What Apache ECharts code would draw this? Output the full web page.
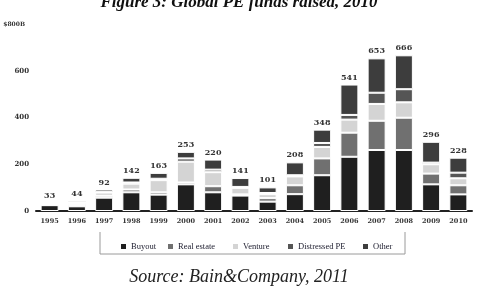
<!DOCTYPE html>
<html>
<head>
<meta charset="utf-8">
<script src="https://cdn.jsdelivr.net/npm/echarts@6/dist/echarts.min.js"></script>
<style>
  html, body { margin: 0; padding: 0; background: #fff; }
  #chart { width: 478px; height: 291px; }
</style>
</head>
<body>
<div id="chart"></div>
<script>
const years = ['1995', '1996', '1997', '1998', '1999', '2000', '2001', '2002',
  '2003', '2004', '2005', '2006', '2007', '2008', '2009', '2010'];
const buyout = [25, 20, 57, 80, 70, 114, 80, 66, 40, 72, 153, 232, 261, 261, 114, 71];
const realEstate = [2, 6, 8, 12, 10, 8, 26, 5, 15, 38, 72, 103, 125, 138, 46, 39];
const venture = [3, 8, 14, 25, 52, 89, 60, 28, 17, 38, 49, 56, 72, 66, 40, 30];
const distressed = [1, 3, 3, 5, 6, 14, 11, 4, 5, 5, 17, 20, 48, 56, 7, 24];
const other = [2, 7, 10, 20, 25, 28, 43, 38, 24, 55, 57, 130, 147, 145, 89, 64];
const totals = [33, 44, 92, 142, 163, 253, 220, 141, 101, 208, 348, 541, 653, 666, 296, 228];
const yTicks = [0, 200, 400, 600, 800];

const chart = echarts.init(document.getElementById('chart'));

const serif = 'DejaVu Serif';
const names = ['Buyout', 'Real estate', 'Venture', 'Distressed PE', 'Other'];
const colors = ['#1f1f1f', '#707070', '#d4d4d4', '#555555', '#3d3d3d'];
const values = [buyout, realEstate, venture, distressed, other];
const legendLeft = [114, 161, 226, 281, 356];

const series = names.map((name, i) => ({
  name: name,
  type: 'bar',
  stack: 'funds',
  barWidth: 18,
  data: values[i],
  itemStyle: { color: colors[i], borderColor: '#fff', borderWidth: 1 },
  label: i === names.length - 1 ? {
    show: true,
    position: 'top',
    distance: 3,
    fontFamily: serif,
    fontWeight: 'bold',
    fontSize: 8,
    color: '#333',
    formatter: p => totals[p.dataIndex]
  } : { show: false }
}));

const option = {
  animation: false,
  title: [
    {
      text: 'Figure 3: Global PE funds raised, 2010',
      left: 'center',
      top: -11,
      textStyle: { fontFamily: 'Liberation Serif', fontStyle: 'italic', fontWeight: 'bold', fontSize: 17, color: '#111' }
    },
    {
      text: 'Source: Bain&Company, 2011',
      left: 'center',
      top: 263,
      textStyle: { fontFamily: 'Liberation Serif', fontStyle: 'italic', fontWeight: 'normal', fontSize: 18, color: '#222' }
    }
  ],
  legend: names.map((name, i) => ({
    data: [name],
    left: legendLeft[i],
    top: 237,
    itemWidth: 7,
    itemHeight: 7,
    itemGap: 0,
    icon: 'rect',
    textStyle: { fontFamily: 'Liberation Serif', fontSize: 8.5, color: '#223', padding: [0, 0, 0, -1] }
  })),
  graphic: [{
    type: 'polyline',
    shape: { points: [[100, 232], [100, 254], [405, 254], [405, 232]] },
    style: { stroke: '#9a9a9a', lineWidth: 1, fill: null }
  }],
  grid: { left: 36, right: 6, top: 24, bottom: 80 },
  xAxis: {
    type: 'category',
    data: years,
    axisLine: { lineStyle: { color: '#222', width: 2 } },
    axisTick: { show: false },
    axisLabel: { fontFamily: serif, fontSize: 6.5, fontWeight: 'bold', color: '#333', margin: 7 }
  },
  yAxis: {
    type: 'value',
    min: yTicks[0],
    max: yTicks[yTicks.length - 1],
    interval: yTicks[1] - yTicks[0],
    axisLine: { show: false },
    axisTick: { show: false },
    splitLine: { show: false },
    axisLabel: {
      fontFamily: serif,
      fontSize: 7,
      fontWeight: 'bold',
      color: '#333',
      margin: 7,
      formatter: v => v === yTicks[yTicks.length - 1] ? '{top|$' + v + 'B}' : v,
      rich: { top: { fontFamily: serif, fontSize: 6, fontWeight: 'bold', color: '#333', padding: [0, 4, 0, 0] } }
    }
  },
  series: series
};

chart.setOption(option);
</script>
</body>
</html>
